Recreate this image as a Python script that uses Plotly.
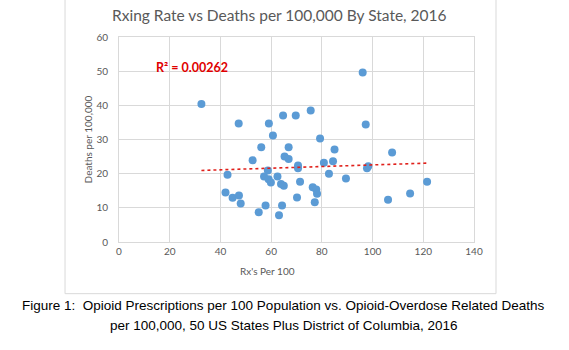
import numpy as np
import plotly.graph_objects as go

# Opioid prescriptions per 100 (x) vs deaths per 100,000 (y)
rx_per_100 = [32.5, 47.2, 59.1, 64.7, 69.7, 75.6, 60.7, 79.3, 56.1, 66.9,
              52.7, 65.3, 66.9, 70.6, 70.6, 58.7, 96.1, 97.3, 85.0, 107.7,
              80.8, 84.4, 98.3, 97.8, 42.8, 57.2, 59.0, 59.9, 62.5, 42.0,
              44.8, 47.3, 48.0, 57.8, 55.1, 63.1, 64.3, 82.8, 89.5, 63.9,
              65.0, 71.4, 76.4, 77.8, 78.1, 70.2, 77.2, 106.1, 114.8, 121.5]
deaths_per_100k = [40.4, 34.7, 34.7, 37.0, 37.0, 38.5, 31.2, 30.3, 27.7, 27.7,
                   23.9, 25.0, 24.3, 22.4, 21.6, 20.9, 49.6, 34.4, 27.1, 26.2,
                   23.2, 23.6, 22.2, 21.6, 19.7, 19.2, 18.4, 17.4, 19.2, 14.5,
                   12.95, 13.6, 11.3, 10.7, 8.7, 7.8, 10.7, 20.0, 18.6, 17.0,
                   16.5, 17.6, 16.0, 15.4, 14.1, 13.0, 11.6, 12.4, 14.2, 17.6]
x_ticks = [0, 20, 40, 60, 80, 100, 120, 140]
y_ticks = [0, 10, 20, 30, 40, 50, 60]
chart_title = "Rxing Rate vs Deaths per 100,000 By State, 2016"
r2_label = "R² = 0.00262"
caption_lines = ["Figure 1:  Opioid Prescriptions per 100 Population vs. Opioid-Overdose Related Deaths",
                 "per 100,000, 50 US States Plus District of Columbia, 2016"]

xs = np.array(rx_per_100)
ys = np.array(deaths_per_100k)
slope, intercept = np.polyfit(xs, ys, 1)
tx = np.array([xs.min(), xs.max()])
ty = slope * tx + intercept

grey = "#595959"
fig = go.Figure()
fig.add_trace(go.Scatter(x=xs, y=ys, mode="markers",
                         marker=dict(color="#5B9BD5", size=8, line=dict(width=0)),
                         showlegend=False, hoverinfo="skip"))
fig.add_trace(go.Scatter(x=tx, y=ty, mode="lines",
                         line=dict(color="#E0201B", width=1.6, dash="dot"),
                         showlegend=False, hoverinfo="skip"))

fig.update_layout(
    width=569, height=350,
    margin=dict(l=119, r=95, t=37, b=108),
    paper_bgcolor="white", plot_bgcolor="white",
    font=dict(family="Lato, Open Sans, sans-serif", color=grey),
    xaxis=dict(range=[0, 140], tickvals=x_ticks, showgrid=True, gridcolor="#D9D9D9",
               gridwidth=1, zeroline=False, showline=True, linecolor="#D9D9D9",
               mirror=True, ticks="", tickfont=dict(size=10, color=grey)),
    yaxis=dict(range=[0, 60], tickvals=y_ticks, showgrid=True, gridcolor="#D9D9D9",
               gridwidth=1, zeroline=False, showline=True, linecolor="#D9D9D9",
               mirror=True, ticks="", ticklabelstandoff=8, tickfont=dict(size=10, color=grey)),
)

annotations = [
    dict(text=chart_title, xref="paper", yref="paper", x=0.4532, y=1.109,
         xanchor="center", yanchor="middle", showarrow=False,
         font=dict(size=15.5, color=grey, family="Lato, Open Sans, sans-serif")),
    dict(text=r2_label, xref="x", yref="y", x=28.8, y=51,
         xanchor="center", yanchor="middle", showarrow=False,
         font=dict(size=12.5, color="#E00000", family="Lato, Open Sans, sans-serif", weight="bold")),
    dict(text="Rx's Per 100", xref="paper", yref="paper", x=0.419, y=-0.14,
         xanchor="center", yanchor="middle", showarrow=False,
         font=dict(size=10, color=grey)),
    dict(text="Deaths per 100,000", xref="paper", yref="paper", x=-0.0876, y=0.5,
         xanchor="center", yanchor="middle", showarrow=False, textangle=-90,
         font=dict(size=10, color=grey)),
    dict(text=caption_lines[0], xref="paper", yref="paper", x=0.4645, y=-0.31,
         xanchor="center", yanchor="middle", showarrow=False,
         font=dict(size=13.5, color="black", family="Liberation Sans, Arial, sans-serif")),
    dict(text=caption_lines[1], xref="paper", yref="paper", x=0.4645, y=-0.407,
         xanchor="center", yanchor="middle", showarrow=False,
         font=dict(size=13.5, color="black", family="Liberation Sans, Arial, sans-serif")),
]
fig.update_layout(annotations=annotations)

fig.add_shape(type="rect", xref="paper", yref="paper", x0=-0.152, x1=1.062, y0=-0.252, y1=1.19,
              line=dict(color="#D9D9D9", width=1), fillcolor="rgba(0,0,0,0)", layer="above")

fig.write_html("out.html")
